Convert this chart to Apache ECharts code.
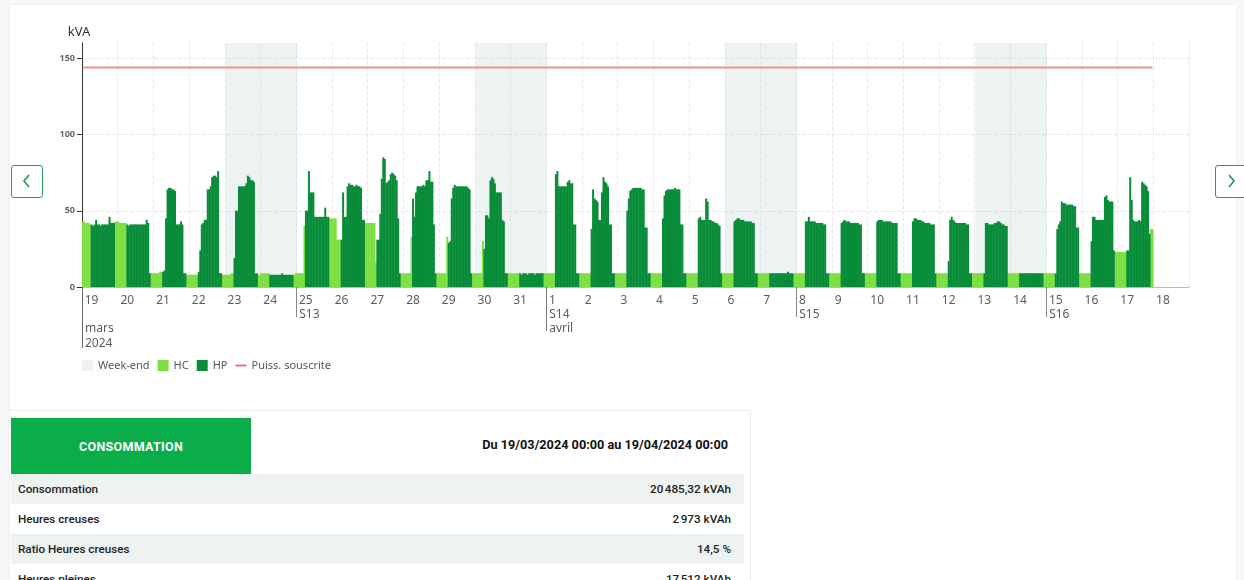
<!DOCTYPE html>
<html lang="fr">
<head>
<meta charset="utf-8">
<title>Courbe de charge</title>
<script src="https://cdn.jsdelivr.net/npm/echarts@6/dist/echarts.min.js"></script>
<style>
  html, body { margin: 0; padding: 0; }
  body { position: relative; width: 1244px; height: 580px; overflow: hidden; background: #f6f7f7; font-family: Roboto, "Noto Sans", sans-serif; }
  .card { position: absolute; left: 10px; top: 5px; width: 1226px; height: 600px; background: #fff; box-shadow: 0 0 3px rgba(0, 0, 0, 0.06); }
  #chart { position: absolute; left: 0; top: 0; width: 1244px; height: 400px; }
  .nav { position: absolute; top: 165px; width: 30px; height: 31px; border: 1.5px solid #22a055; border-radius: 3px; background: #fff; }
  .nav svg { position: absolute; left: 9px; top: 8px; }
  .prev { left: 11px; }
  .next { left: 1215px; }
  .recap { position: absolute; left: 10px; top: 410px; width: 740px; height: 200px; border-top: 1px solid #ececec; border-right: 1px solid #ececec; background: #fff; }
  .recap .head { position: absolute; left: 1px; top: 7px; width: 240px; height: 56px; background: #0aad4a; color: #fff; font-weight: 700; font-size: 12.5px; letter-spacing: 0.3px; display: flex; align-items: center; justify-content: center; }
  .recap .period { position: absolute; right: 22px; top: 26px; font-weight: 700; font-size: 12.7px; color: #111; }
  .recap table { position: absolute; left: 1px; top: 63px; width: 733px; border-collapse: collapse; }
  .recap td { height: 30px; padding: 0 7px; font-size: 11.7px; color: #222; font-weight: 500; }
  .recap tr:nth-child(odd) td { background: #eef3f2; }
  .recap td.v { text-align: right; padding-right: 13px; }
</style>
</head>
<body>
<div class="card"></div>
<div id="chart"></div>
<div class="nav prev"><svg width="12" height="14" viewBox="0 0 12 14"><polyline points="8,1 3,7 8,13" fill="none" stroke="#1b9a52" stroke-width="1.6"/></svg></div>
<div class="nav next"><svg width="12" height="14" viewBox="0 0 12 14"><polyline points="4,1 9,7 4,13" fill="none" stroke="#1b9a52" stroke-width="1.6"/></svg></div>

<div class="recap">
  <div class="head">CONSOMMATION</div>
  <div class="period">Du 19/03/2024 00:00 au 19/04/2024 00:00</div>
  <table>
    <tr><td>Consommation</td><td class="v">20&#8239;485,32 kVAh</td></tr>
    <tr><td>Heures creuses</td><td class="v">2&#8239;973 kVAh</td></tr>
    <tr><td>Ratio Heures creuses</td><td class="v">14,5 %</td></tr>
    <tr><td>Heures pleines</td><td class="v">17&#8239;512 kVAh</td></tr>
  </table>
</div>

<script>
// axis labels (one entry per day, 19/03 -> 18/04)
const dayLabels = ["19", "20", "21", "22", "23", "24", "25", "26", "27", "28", "29", "30", "31",
  "1", "2", "3", "4", "5", "6", "7", "8", "9", "10", "11", "12", "13", "14", "15", "16", "17", "18"];
const weekStartDays = [6, 13, 20, 27];
const weekLabels = ["S13", "S14", "S15", "S16"];
const monthStartDays = [0, 13];
const monthLabels = ["mars", "avril"];
const yearLabel = "2024";
const weekends = [[4, 5], [11, 12], [18, 19], [25, 26]];
const hcHours = [0, 1, 2, 3, 4, 5, 22, 23];
const puissanceSouscrite = 144;

// hourly power (kVA), one row of 24 values per day, 19/03 -> 17/04
const kva = [
  [43, 43, 42, 42, 42, 41, 41, 40, 41, 44, 41, 41, 40, 41, 41, 41, 41, 41, 46, 42, 42, 42, 43, 43],
  [43, 42, 42, 42, 42, 42, 41, 40, 41, 41, 41, 41, 41, 41, 41, 41, 41, 41, 41, 44, 42, 9, 9, 9],
  [9, 9, 9, 9, 10, 10, 10, 11, 45, 64, 65, 65, 64, 64, 63, 41, 41, 41, 43, 41, 9, 9, 8, 8],
  [8, 8, 8, 8, 8, 8, 10, 24, 41, 42, 44, 44, 64, 64, 66, 72, 73, 73, 72, 76, 9, 9, 8, 8],
  [8, 8, 8, 8, 9, 9, 19, 50, 50, 66, 66, 66, 66, 66, 68, 73, 72, 70, 70, 69, 9, 9, 8, 8],
  [9, 9, 9, 9, 9, 9, 8, 8, 8, 8, 8, 8, 8, 8, 9, 8, 8, 8, 8, 8, 8, 8, 8, 9],
  [9, 9, 9, 9, 9, 40, 50, 50, 76, 62, 62, 62, 46, 46, 46, 46, 46, 46, 46, 52, 46, 46, 45, 45],
  [45, 45, 45, 31, 31, 31, 31, 62, 46, 46, 66, 68, 67, 67, 66, 66, 67, 66, 66, 65, 44, 44, 42, 42],
  [42, 42, 42, 42, 42, 16, 31, 31, 48, 71, 85, 84, 68, 69, 70, 74, 75, 74, 73, 70, 45, 9, 9, 9],
  [9, 9, 9, 9, 9, 33, 58, 46, 62, 66, 66, 66, 66, 67, 66, 70, 70, 76, 69, 69, 41, 9, 9, 9],
  [9, 9, 9, 9, 9, 33, 29, 30, 58, 65, 67, 66, 66, 66, 66, 66, 66, 66, 66, 65, 64, 9, 9, 9],
  [9, 9, 9, 9, 9, 30, 25, 47, 47, 45, 70, 72, 71, 68, 62, 62, 62, 62, 44, 43, 9, 9, 9, 9],
  [9, 9, 9, 9, 9, 9, 9, 8, 9, 9, 9, 8, 9, 9, 9, 9, 8, 9, 9, 9, 9, 9, 9, 9],
  [9, 9, 9, 9, 9, 9, 74, 76, 66, 66, 66, 66, 66, 66, 69, 70, 68, 68, 41, 41, 9, 9, 9, 9],
  [9, 9, 9, 9, 9, 9, 38, 64, 58, 57, 56, 44, 44, 62, 72, 69, 68, 66, 41, 41, 9, 9, 9, 9],
  [9, 9, 9, 9, 9, 9, 50, 58, 63, 64, 65, 65, 65, 65, 65, 65, 64, 64, 39, 39, 9, 9, 9, 9],
  [9, 9, 9, 9, 9, 9, 45, 60, 63, 64, 64, 64, 64, 64, 65, 64, 64, 64, 41, 41, 9, 9, 9, 9],
  [9, 9, 9, 9, 9, 9, 45, 46, 44, 44, 44, 58, 56, 44, 44, 43, 43, 42, 42, 41, 40, 9, 9, 9],
  [9, 9, 9, 9, 9, 9, 43, 44, 45, 45, 44, 44, 44, 43, 43, 43, 43, 43, 42, 42, 9, 9, 9, 9],
  [9, 9, 9, 9, 9, 9, 9, 9, 9, 9, 9, 9, 9, 9, 9, 9, 9, 9, 10, 9, 9, 9, 9, 9],
  [9, 9, 9, 9, 9, 9, 43, 43, 46, 43, 43, 43, 43, 42, 42, 42, 42, 42, 41, 41, 9, 9, 9, 9],
  [9, 9, 9, 9, 9, 9, 42, 43, 44, 43, 43, 43, 42, 42, 42, 42, 42, 42, 41, 41, 9, 9, 9, 9],
  [9, 9, 9, 9, 9, 9, 43, 44, 44, 44, 43, 43, 43, 43, 43, 43, 42, 42, 42, 42, 9, 9, 9, 9],
  [9, 9, 9, 9, 9, 9, 43, 45, 45, 44, 44, 44, 43, 43, 42, 42, 42, 42, 41, 41, 41, 9, 9, 9],
  [9, 9, 9, 9, 9, 9, 17, 44, 46, 44, 43, 42, 42, 42, 42, 42, 42, 42, 41, 41, 9, 9, 9, 9],
  [9, 9, 9, 9, 9, 9, 9, 42, 42, 41, 41, 41, 41, 42, 42, 43, 43, 42, 41, 41, 40, 40, 9, 9],
  [9, 9, 9, 9, 9, 9, 9, 9, 9, 9, 9, 9, 9, 9, 9, 9, 9, 9, 9, 9, 9, 9, 9, 9],
  [9, 9, 9, 9, 9, 9, 9, 38, 41, 43, 56, 55, 55, 54, 54, 54, 54, 54, 53, 53, 39, 39, 9, 9],
  [9, 9, 9, 9, 9, 9, 30, 46, 46, 44, 44, 44, 44, 44, 44, 59, 60, 57, 56, 56, 56, 24, 23, 23],
  [23, 23, 23, 23, 23, 23, 24, 24, 72, 57, 44, 43, 43, 43, 44, 43, 69, 68, 67, 66, 63, 35, 38, 38],
];

const HOURS = 24;
const hours = [];
dayLabels.forEach((d, i) => {
  for (let h = 0; h < HOURS; h++) hours.push(i + "-" + h);
});
const boundaries = hours.concat(["fin"]);

const hcData = [];
const hpData = [];
const psData = [];
hours.forEach((_, idx) => {
  const day = Math.floor(idx / HOURS);
  const h = idx % HOURS;
  const v = kva[day] ? kva[day][h] : null;
  const isHc = hcHours.includes(h);
  hcData.push(v != null && isHc ? v : null);
  hpData.push(v != null && !isHc ? v : null);
  psData.push(kva[day] ? puissanceSouscrite : null);
});

const weekendAreas = weekends.map(([s, e]) => [{ xAxis: hours[s * HOURS] }, { xAxis: hours[(e + 1) * HOURS] }]);

const weekTicks = weekStartDays.map((d) => d * HOURS);
const monthTicks = monthStartDays.map((d) => d * HOURS);
const labelStyle = { color: "#5c5c5c", fontSize: 12, fontFamily: "Noto Sans", align: "left", lineHeight: 14 };
const WEEKEND = "rgba(190, 210, 210, 0.27)";
const HC_COLOR = "#7ddf42";
const HP_COLOR = "#098c39";
const GRID = "#e8e8e8";

// extra tick level (week / month / year) laid over the day axis
function levelAxis(tickIdx, text, length, margin, color) {
  return {
    type: "category",
    data: boundaries,
    boundaryGap: false,
    position: "bottom",
    axisLine: { show: false },
    axisTick: { interval: (i) => tickIdx.includes(i), length, lineStyle: { color } },
    axisLabel: {
      ...labelStyle,
      interval: (i) => tickIdx.includes(i),
      formatter: (v, i) => text[tickIdx.indexOf(i)],
      margin,
      padding: [0, 0, 0, 3],
    },
    splitLine: { show: false },
  };
}

const chart = echarts.init(document.getElementById("chart"));
chart.setOption({
  animation: false,
  textStyle: { fontFamily: "Noto Sans" },
  grid: { left: 82, top: 43, width: 1107, height: 244 },
  legend: {
    left: 82,
    top: 360,
    padding: 0,
    itemWidth: 11,
    itemHeight: 11,
    itemGap: 8,
    textStyle: { color: "#555", fontSize: 11 },
    data: [
      { name: "Week-end", icon: "rect" },
      { name: "HC", icon: "rect" },
      { name: "HP", icon: "rect" },
      { name: "Puiss. souscrite", icon: "path://M0,0 L12,0 L12,2 L0,2 Z" },
    ],
  },
  xAxis: [
    {
      type: "category",
      data: hours,
      boundaryGap: true,
      position: "bottom",
      axisLine: { lineStyle: { color: "#bbb" } },
      axisTick: { interval: (i) => i % HOURS === 0, length: 5, lineStyle: { color: "#aaa" } },
      axisLabel: {
        ...labelStyle,
        interval: (i) => i % HOURS === 0,
        formatter: (v, i) => dayLabels[i / HOURS],
        margin: 7,
        padding: [0, 0, 0, 2],
      },
      splitLine: { show: true, interval: (i) => i % HOURS === 0, lineStyle: { type: "dashed", color: GRID } },
    },
    levelAxis(weekTicks, weekLabels, 30, 21, "#888"),
    levelAxis([monthTicks[1]], [monthLabels[1]], 44, 35, "#777"),
    levelAxis([monthTicks[0]], [monthLabels[0]], 44, 35, "#777"),
    levelAxis([0], [yearLabel], 61, 50, "#666"),
  ],
  yAxis: {
    type: "value",
    min: 0,
    max: 160,
    interval: 50,
    name: "kVA",
    nameGap: 4,
    nameTextStyle: { color: "#333", fontSize: 13, padding: [0, 6, 0, 0] },
    axisLine: { show: true, lineStyle: { color: "#333" } },
    axisTick: { show: true, length: 5, lineStyle: { color: "#333" } },
    axisLabel: { color: "#666", fontSize: 9, fontWeight: "bold", margin: 7, showMaxLabel: false },
    // no line at the top (160) edge
    splitLine: { lineStyle: { type: "dashed", color: [GRID, GRID, GRID, GRID, "rgba(0,0,0,0)"] } },
  },
  series: [
    {
      name: "Week-end",
      type: "line",
      data: [],
      z: 1,
      itemStyle: { color: WEEKEND },
      markArea: { silent: true, itemStyle: { color: WEEKEND }, data: weekendAreas },
    },
    {
      name: "HC",
      type: "bar",
      data: hcData,
      z: 3,
      barGap: "-100%",
      barWidth: 2,
      itemStyle: { color: HC_COLOR },
    },
    {
      name: "HP",
      type: "bar",
      data: hpData,
      z: 3,
      barGap: "-100%",
      barWidth: 2,
      itemStyle: { color: HP_COLOR },
    },
    {
      name: "Puiss. souscrite",
      type: "line",
      data: psData,
      symbol: "none",
      z: 4,
      itemStyle: { color: "#f06a6a" },
      lineStyle: { color: "#f28f8f", width: 2 },
    },
  ],
});
</script>
</body>
</html>
